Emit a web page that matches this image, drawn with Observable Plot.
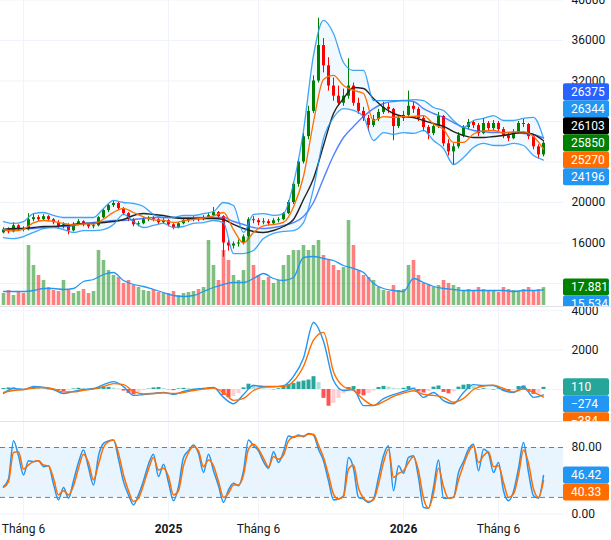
<!DOCTYPE html>
<html><head><meta charset="utf-8">
<script src="https://cdn.jsdelivr.net/npm/d3@7"></script>
<script src="https://cdn.jsdelivr.net/npm/@observablehq/plot@0.6"></script>
<style>
body{margin:0;background:#fff;}
#chart{position:relative;width:611px;height:540px;overflow:hidden;background:#fff;}
.sep{position:absolute;left:0;width:611px;height:1px;background:#e0e3eb;}
</style></head><body><div id="chart"></div>
<script>
// ---------- DATA (weekly bars) ----------
const open = [17000,17300,17100,17700,17400,17300,18300,18500,18300,18600,
18300,18000,17600,17800,17200,17800,18100,17800,17600,17700,
18500,19200,19700,19900,19400,18900,18300,17800,17900,18300,
18400,18300,18000,18200,17800,17500,17900,18200,18300,18400,
18300,18500,18700,19000,18600,16000,15700,15900,16000,16600,
18300,18200,18000,18100,17900,18200,18300,18900,20000,21800,
24000,26500,29000,32000,35500,33500,31500,30500,29800,30500,
31500,29800,29000,28300,27600,28200,28900,29400,29200,27500,
28300,28600,29500,29200,28300,27400,26800,27500,28500,25800,
25000,25500,26600,27400,27900,27600,26800,27800,27300,27800,
27200,26600,26300,26900,27800,27700,26500,25500,24700];
const high = [17500,17500,18000,17800,17600,18900,18900,18700,18800,18700,
18400,18200,18000,17900,18000,18300,18200,17900,17900,18600,
19300,19800,20100,20000,19500,19000,18400,18100,18500,18600,
18600,18400,18400,18300,17900,18000,18300,18500,18600,18500,
18700,18900,19500,19100,18700,16300,16100,16300,16800,18500,
18600,18400,18400,18300,18400,18500,19000,20200,22000,24300,
26800,29500,32500,38200,36200,34300,32300,31500,31200,34200,
31800,30300,29400,28600,28600,29200,29900,29800,29300,28600,
29000,31000,29900,29400,28500,27600,27800,28900,28600,26200,
25800,26900,27600,28200,28100,27800,28300,28000,28100,28000,
27400,26800,27200,28000,28200,27800,26700,25700,26000];
const low = [16900,16900,17000,17200,17100,17200,18100,18100,18200,18100,
17800,17400,17400,16800,17100,17700,17600,17400,17400,17600,
18400,19000,19500,19200,18700,18100,17600,17600,17800,18100,
18100,17800,17900,17600,17300,17400,17800,18000,18100,18100,
18200,18400,18600,18400,14600,15200,15400,15600,15800,16500,
17900,17700,17800,17700,17800,18000,18200,18800,19800,21500,
23800,26200,28800,31800,32800,31000,30000,29500,29500,30200,
29500,28700,28000,27000,27400,28000,28700,28800,26100,27300,
28000,28400,28800,28000,27000,26200,26600,27300,25500,24600,
23700,25300,26400,27200,27300,26500,26700,27000,27100,26900,
26300,26000,26200,26800,27400,26200,25200,24300,24500];
const close = [17300,17100,17700,17400,17300,18300,18500,18300,18600,18300,
18000,17600,17800,17200,17800,18100,17800,17600,17700,18500,
19200,19700,19900,19400,18900,18300,17800,17900,18300,18400,
18300,18000,18200,17800,17500,17900,18200,18300,18400,18300,
18500,18700,19000,18600,16000,15700,15900,16000,16600,18300,
18200,18000,18100,17900,18200,18300,18900,20000,21800,24000,
26500,29000,32000,35500,33500,31500,30500,29800,30500,31500,
29800,29000,28300,27600,28200,28900,29400,29200,27500,28300,
28600,29500,29200,28300,27400,26800,27500,28500,25800,25000,
25500,26600,27400,27900,27600,26800,27800,27300,27800,27200,
26600,26300,26900,27800,27700,26500,25500,24700,25850];
const volume = [12,15,10,14,12,60,40,30,25,18,
15,14,25,15,12,14,16,12,14,55,
45,35,30,28,22,25,20,18,15,14,
16,13,12,12,14,10,12,13,14,16,
18,65,40,25,55,45,30,25,35,68,
40,30,25,28,22,25,40,50,55,55,
60,55,60,65,50,45,40,35,38,85,
60,35,30,28,25,18,15,14,20,15,
16,40,45,30,22,20,18,20,25,22,
20,18,15,16,14,18,16,15,14,13,
18,16,15,14,16,18,14,16,17.881];

// indicators sampled every second bar
const bbUpper = [18120,17930,18120,18910,19010,18720,18520,18520,18520,18520,
19410,20200,20000,19900,19600,18820,18520,18520,18720,18720,
18910,19110,20000,19700,17040,18820,18910,18720,18910,21880,
27110,34520,37980,36690,33830,33040,33040,30070,30070,30070,
30070,30170,30070,29380,29090,28100,27410,28100,28300,28590,
28100,28100,28300,28400,26344];
const bbLower = [16540,16440,16640,17040,17430,17530,17330,17040,17230,17230,
17330,17830,18820,18120,17530,17730,17930,17530,17630,17930,
18020,18220,18020,14960,14960,15260,16440,16940,17140,17230,
18020,21380,26320,28400,29280,29090,28490,26120,26910,26720,
26910,26820,27110,26120,25330,23750,24440,25430,25830,25630,
25630,25830,25630,24640,24196];
const bbBasis = [17330,17190,17380,17980,18220,18130,17930,17780,17880,17880,
18370,19020,19410,19010,18570,18280,18230,18030,18180,18330,
18470,18670,19010,17330,16000,17040,17680,17830,18030,19560,
22570,27950,32150,32550,31560,31070,30770,28100,28490,28400,
28490,28500,28590,27750,27210,25930,25930,26770,27070,27110,
26870,26970,26970,26520,25270];
const ma50 = [17330,17430,17430,17530,17630,17630,17730,17830,17930,17930,
18020,18120,18320,18720,18910,18820,18720,18520,18420,18420,
18420,18420,18320,17830,17430,17140,17040,17230,17630,18320,
20300,22370,25630,28790,30270,31360,31260,30270,29380,28790,
28490,28400,28100,27800,27510,27010,26620,26420,26420,26520,
26620,26820,26910,26720,26103];
const ma200 = [17230,17330,17430,17430,17530,17630,17630,17730,17930,18020,
18120,18220,18220,18320,18420,18520,18520,18520,18520,18520,
18520,18520,18520,18120,17830,17530,17430,17530,17730,18020,
18620,20000,22370,24640,26420,27510,28490,29280,29780,29980,
30070,29980,29280,28790,28400,27900,27410,27110,27010,26910,
26910,26910,26820,26720,26375];
const volMA = [14,14,14,15,17,17,16,17,24,26,
31,33,25,21,19,16,13,10,9,10,
14,18,21,23,23,27,32,27,25,28,
48,49,47,45,40,37,33,22,17,15,
14,27,23,19,17,16,15,15,15,15,
15,14,15,15,15.534];
const macdLine = [-200,50,0,150,100,0,-200,-100,0,50,
250,400,150,-300,-250,-200,-150,-250,-100,0,
50,100,-400,-720,-250,200,150,150,200,670,
1600,3400,2450,460,-50,0,-820,-820,-460,-260,
-100,50,-400,-150,-560,-720,-150,250,200,200,
-50,-150,150,-400,-274];
const signalLine = [-150,-50,0,80,100,30,-120,-120,-40,20,
150,300,250,-100,-220,-200,-170,-200,-150,-50,
20,70,-150,-550,-450,-50,120,140,150,420,
1180,2500,2900,900,150,-50,-500,-800,-620,-350,
-180,-60,-250,-300,-400,-650,-450,0,180,220,
50,-120,20,-150,-384];
// per bar
const macdHist = [50,80,80,30,-40,50,100,80,40,-20,
-40,-60,-100,-60,30,60,50,40,30,60,
100,110,70,30,-80,-200,-270,-150,-60,20,
80,100,60,-20,-60,30,60,50,40,30,
60,80,50,-30,-300,-420,-350,-200,80,270,
220,120,40,20,-20,40,120,250,300,380,
430,480,650,350,-450,-850,-700,-450,-200,100,
150,-250,-320,-200,-80,100,160,120,60,40,
60,150,100,-120,-180,-100,120,180,-150,-220,
-120,120,220,250,150,-30,40,20,-30,30,
-80,-120,-60,150,180,-120,-250,-200,110];
const stochK = [33,42,88,70,47,64,63,64,57,58,
36,17,32,19,40,62,77,56,35,70,
85,88,89,66,39,23,11,23,40,60,
72,45,60,38,16,33,68,76,83,73,
50,72,52,34,14,29,37,34,52,89,
82,76,63,55,75,62,75,94,92,95,
93,97,95,78,64,40,17,18,22,68,
55,20,18,14,18,44,70,82,28,58,
49,68,70,44,8,7,32,65,19,19,
20,50,63,78,84,52,78,73,50,62,
28,16,27,55,86,50,22,19,46.42];
const stochD = [32,39,74,75,54,59,63,64,59,58,
43,23,28,23,34,55,72,62,41,60,
80,87,89,73,47,28,15,19,35,54,
68,53,55,45,23,28,58,74,81,76,
57,65,58,39,20,25,35,35,47,78,
84,78,67,57,69,66,71,88,93,94,
94,96,96,83,68,47,24,18,21,54,
59,31,19,15,17,36,62,78,44,49,
52,62,69,52,19,7,25,55,33,19,
20,41,59,74,82,62,70,75,57,58,
38,20,24,47,77,61,30,20,40.33];

const tickBars = [4, 33, 51, 80, 99];
const tickLabels = ["Tháng 6", "2025", "Tháng 6", "2026", "Tháng 6"];
const priceGrid = [12000,16000,20000,24000,28000,32000,36000,40000];
const priceTicks = [16000,20000,32000,36000,40000];
const macdGrid = [0, 2000, 4000];
const macdTicks = [2000, 4000];
const stochGrid = [0, 40];
const stochTicks = [0, 80];
const stochBands = [20, 80];

// ---------- LAYOUT ----------
const W = 611, MR = 48, XD = [-0.6, 112];
const H1 = 306, H2 = 115, H3 = 119;
const FONT = "Roboto, 'Noto Sans', sans-serif";
const UP = "#008000", DOWN = "#ff0000", GRID = "#f0f3fa";
const BLUE = "#2196f3", ORANGE = "#ff6d00";

const bars = close.map((c, i) => ({i, o: open[i], h: high[i], l: low[i], c, v: volume[i], up: c >= open[i]}));
const ind = bbUpper.map((u, j) => ({x: 2 * j, u, l: bbLower[j], m: bbBasis[j], ma50: ma50[j], ma200: ma200[j],
  vma: volMA[j], macd: macdLine[j], sig: signalLine[j]}));
const hist = macdHist.map((h, i) => {
  const p = i > 0 ? macdHist[i - 1] : 0;
  const color = h >= 0 ? (h >= p ? "#26a69a" : "#b2dfdb") : (h < p ? "#ff5252" : "#ffcdd2");
  return {i, h, color};
});
const stoch = stochK.map((k, i) => ({i, k, d: stochD[i]}));
const ticks = tickBars.map((b, j) => ({b, label: tickLabels[j], year: /^\d{4}$/.test(tickLabels[j])}));

const baseStyle = {fontFamily: FONT, fontSize: "12px", color: "#131722", background: "transparent", overflow: "hidden"};
const chart = document.getElementById("chart");

function place(svg, top) {
  svg.style.position = "absolute"; svg.style.left = "0px"; svg.style.top = top + "px";
  chart.appendChild(svg);
}

function valueLabels(svg, yScale, items, anchor) {
  const h = 17;
  const ys = items.map(d => yScale.apply(d.value));
  const pos = ys.slice();
  for (let k = anchor - 1; k >= 0; k--) pos[k] = Math.min(ys[k], pos[k + 1] - h);
  for (let k = anchor + 1; k < items.length; k++) pos[k] = Math.max(ys[k], pos[k - 1] + h);
  const g = d3.select(svg).append("g");
  items.forEach((d, k) => {
    g.append("rect").attr("x", W - MR).attr("y", pos[k] - h / 2).attr("width", 46).attr("height", h)
      .attr("rx", 2).attr("fill", d.color);
    g.append("text").attr("x", W - MR + 8).attr("y", pos[k]).attr("dy", "0.36em")
      .attr("text-anchor", "start")
      .attr("fill", "#fff").attr("font-size", 12).attr("font-family", FONT).text(d.text);
  });
}

// ---------- MAIN PRICE PANEL ----------
const main = Plot.plot({
  width: W, height: H1, marginTop: 0, marginBottom: 0, marginLeft: 0, marginRight: MR,
  style: baseStyle,
  x: {domain: XD, axis: null},
  y: {domain: [9728, 39951], axis: "right", ticks: priceTicks, tickSize: 0, tickPadding: 8,
      tickFormat: d3.format("d"), label: null},
  marks: [
    Plot.ruleY(priceGrid, {stroke: GRID}),
    Plot.ruleX(tickBars, {stroke: GRID}),
    Plot.areaY(ind, {x: "x", y1: "l", y2: "u", fill: BLUE, fillOpacity: 0.06, curve: "monotone-x"}),
    Plot.ruleX(bars, {x: "i", y1: "l", y2: "h", stroke: d => d.up ? UP : DOWN, strokeWidth: 1}),
    Plot.ruleX(bars, {x: "i", y1: "o", y2: "c", stroke: d => d.up ? UP : DOWN, strokeWidth: 3}),
    Plot.line(ind, {x: "x", y: "ma200", stroke: "#2962ff", strokeWidth: 1.4, strokeOpacity: 0.8, curve: "monotone-x"}),
    Plot.line(ind, {x: "x", y: "ma50", stroke: "#222", strokeWidth: 1.4, curve: "monotone-x"}),
    Plot.line(ind, {x: "x", y: "m", stroke: ORANGE, strokeWidth: 1.3, curve: "monotone-x"}),
    Plot.line(ind, {x: "x", y: "u", stroke: BLUE, strokeWidth: 1.3, strokeOpacity: 0.85, curve: "monotone-x"}),
    Plot.line(ind, {x: "x", y: "l", stroke: BLUE, strokeWidth: 1.3, strokeOpacity: 0.85, curve: "monotone-x"})
  ]
});
place(main, 0);
valueLabels(main, main.scale("y"), [
  {value: ma200[ma200.length - 1], text: "26375", color: "#2962ff"},
  {value: bbUpper[bbUpper.length - 1], text: "26344", color: BLUE},
  {value: ma50[ma50.length - 1], text: "26103", color: "#000000"},
  {value: close[close.length - 1], text: "25850", color: UP},
  {value: bbBasis[bbBasis.length - 1], text: "25270", color: ORANGE},
  {value: bbLower[bbLower.length - 1], text: "24196", color: BLUE}
], 3);

// ---------- VOLUME OVERLAY ----------
const vol = Plot.plot({
  width: W, height: H1, marginTop: 0, marginBottom: 0, marginLeft: 0, marginRight: MR,
  style: baseStyle,
  x: {domain: XD, axis: null},
  y: {domain: [-1, 305], axis: null},
  marks: [
    Plot.ruleX(bars, {x: "i", y1: 0, y2: "v", stroke: d => d.up ? "rgba(0,128,0,0.5)" : "rgba(255,0,0,0.5)", strokeWidth: 3.6}),
    Plot.line(ind, {x: "x", y: "vma", stroke: BLUE, strokeWidth: 1.3, curve: "monotone-x"})
  ]
});
place(vol, 0);
valueLabels(vol, vol.scale("y"), [
  {value: volume[volume.length - 1], text: "17.881M", color: UP},
  {value: volMA[volMA.length - 1], text: "15.534M", color: BLUE}
], 0);

// ---------- MACD PANEL ----------
const macd = Plot.plot({
  width: W, height: H2, marginTop: 0, marginBottom: 0, marginLeft: 0, marginRight: MR,
  style: baseStyle,
  x: {domain: XD, axis: null},
  y: {domain: [-1624, 4213], axis: "right", ticks: macdTicks, tickSize: 0, tickPadding: 8,
      tickFormat: d3.format("d"), label: null},
  marks: [
    Plot.ruleY(macdGrid, {stroke: GRID}),
    Plot.ruleX(tickBars, {stroke: GRID}),
    Plot.ruleX(hist, {x: "i", y1: 0, y2: "h", stroke: "color", strokeWidth: 4}),
    Plot.line(ind, {x: "x", y: "macd", stroke: BLUE, strokeWidth: 1.4, curve: "monotone-x"}),
    Plot.line(ind, {x: "x", y: "sig", stroke: ORANGE, strokeWidth: 1.4, curve: "monotone-x"})
  ]
});
place(macd, H1);
valueLabels(macd, macd.scale("y"), [
  {value: macdHist[macdHist.length - 1], text: "110", color: "#26a69a"},
  {value: macdLine[macdLine.length - 1], text: "\u2212274", color: BLUE},
  {value: signalLine[signalLine.length - 1], text: "\u2212384", color: ORANGE}
], 0);

// ---------- STOCH RSI PANEL ----------
const st = Plot.plot({
  width: W, height: H3, marginTop: 0, marginBottom: 19, marginLeft: 0, marginRight: MR,
  style: baseStyle,
  x: {domain: XD, axis: null},
  y: {domain: [-9.0, 111.3], axis: "right", ticks: stochTicks, tickSize: 0, tickPadding: 8,
      tickFormat: d3.format(".2f"), label: null},
  marks: [
    Plot.rect([{x1: XD[0], x2: XD[1], y1: stochBands[0], y2: stochBands[1]}],
      {x1: "x1", x2: "x2", y1: "y1", y2: "y2", fill: BLUE, fillOpacity: 0.1}),
    Plot.ruleY(stochGrid, {stroke: GRID}),
    Plot.ruleX(tickBars, {stroke: GRID}),
    Plot.ruleY(stochBands, {stroke: "#787b86", strokeDasharray: "5,4"}),
    Plot.line(stoch, {x: "i", y: "k", stroke: BLUE, strokeWidth: 1.5, curve: "monotone-x"}),
    Plot.line(stoch, {x: "i", y: "d", stroke: ORANGE, strokeWidth: 1.5, curve: "monotone-x"}),
    Plot.text(ticks.filter(d => !d.year), {x: "b", text: "label", frameAnchor: "bottom", dy: 11, fill: "#131722", fontSize: 12}),
    Plot.text(ticks.filter(d => d.year), {x: "b", text: "label", frameAnchor: "bottom", dy: 11, fill: "#131722", fontSize: 12, fontWeight: "bold"})
  ]
});
place(st, H1 + H2);
valueLabels(st, st.scale("y"), [
  {value: stochK[stochK.length - 1], text: "46.42", color: BLUE},
  {value: stochD[stochD.length - 1], text: "40.33", color: ORANGE}
], 0);

// panel separators
[H1, H1 + H2].forEach(t => {
  const d = document.createElement("div"); d.className = "sep"; d.style.top = t + "px"; chart.appendChild(d);
});
</script></body></html>
